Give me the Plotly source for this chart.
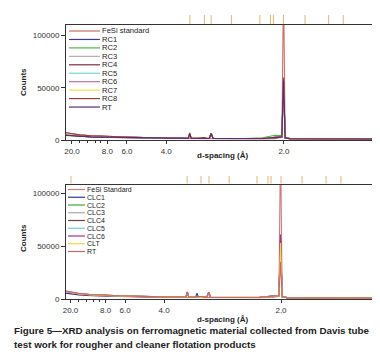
import plotly.graph_objects as go

# ---------------- data ----------------
d_spacing = [27.0, 20.0, 15.0, 11.0, 8.0, 6.0, 4.5, 3.6, 3.37, 3.335, 3.30, 3.15, 3.12, 3.09,
             3.05, 3.02, 2.99, 2.93, 2.895, 2.86, 2.60, 2.40, 2.20, 2.08, 2.018, 2.004, 1.99,
             1.95, 1.84, 1.70, 1.55, 1.40]

x_tick_d = [20.0, 8.0, 6.0, 4.0, 2.0]
x_tick_labels = ["20.0", "8.0", "6.0", "4.0", "2.0"]
minor_tick_d = [15.0, 12.0, 10.0, 9.0]
y_tick_vals = [0, 50000, 100000]
y_tick_labels = ["0", "50000", "100000"]

ref_d_top = [3.33, 3.02, 2.895, 2.575, 2.228, 2.122, 2.094, 2.004, 1.836, 1.681, 1.598]
ref_d_bottom = [19.6, 3.34, 3.04, 2.89, 2.57, 2.229, 2.118, 2.089, 2.0, 1.835, 1.677, 1.592]

names_top = ["FeSi standard", "RC1", "RC2", "RC3", "RC4", "RC5", "RC6", "RC7", "RC8", "RT"]
fesi_top = [5200, 4300, 3600, 3000, 2500, 2100, 1700, 1400, 1300, 1500, 1300, 1250, 1250, 1250, 1250, 1300,
            1250, 1200, 1400, 1200, 1150, 1100, 1100, 1300, 2500, 150000, 2200, 1100, 1000, 950, 900, 850]
rc1 = [4300, 3800, 3300, 2900, 2500, 2200, 1900, 1600, 1550, 5200, 1550, 1500, 1500, 1500, 1500, 2000,
       1500, 1450, 5600, 1450, 1400, 1300, 1400, 2200, 2800, 52000, 1900, 1250, 1150, 1050, 950, 900]
rc2 = [6400, 5500, 4600, 3800, 3100, 2600, 2100, 1700, 1650, 6000, 1650, 1550, 1550, 1550, 1550, 2200,
       1500, 1450, 6200, 1450, 1400, 1400, 2200, 4500, 4200, 56000, 2300, 1300, 1200, 1100, 1000, 950]
rc3 = [6200, 5300, 4500, 3700, 3100, 2600, 2100, 1700, 1650, 5600, 1600, 1550, 1550, 1550, 1550, 2100,
       1500, 1450, 6000, 1450, 1400, 1300, 1500, 2500, 3000, 50000, 2000, 1300, 1200, 1100, 1000, 950]
rc4 = [6800, 5800, 4800, 4000, 3300, 2800, 2200, 1800, 1700, 6400, 1700, 1600, 1600, 1600, 1600, 2300,
       1550, 1500, 6400, 1500, 1400, 1300, 1500, 2600, 3100, 58000, 2100, 1300, 1200, 1100, 1000, 950]
rc5 = [6000, 5100, 4300, 3600, 3000, 2500, 2000, 1700, 1600, 5800, 1600, 1500, 1500, 1500, 1500, 2100,
       1500, 1450, 5800, 1450, 1350, 1300, 1500, 2500, 3000, 47000, 2000, 1250, 1150, 1050, 950, 900]
rc6 = [6700, 5700, 4800, 4000, 3300, 2800, 2200, 1800, 1700, 6600, 1700, 1600, 1600, 1600, 1600, 2300,
       1550, 1500, 6500, 1500, 1400, 1300, 1500, 2700, 3200, 60000, 2100, 1300, 1200, 1100, 1000, 950]
rc7 = [6300, 5400, 4500, 3800, 3100, 2600, 2100, 1700, 1650, 6000, 1650, 1550, 1550, 1550, 1550, 2200,
       1500, 1450, 6000, 1450, 1400, 1300, 1500, 2600, 3000, 54000, 2000, 1300, 1200, 1100, 1000, 950]
rc8 = [6900, 5900, 4900, 4100, 3300, 2800, 2200, 1800, 1700, 6800, 1700, 1600, 1600, 1600, 1600, 2300,
       1550, 1500, 6600, 1500, 1400, 1300, 1500, 2700, 3200, 59000, 2100, 1300, 1200, 1100, 1000, 950]
rt_top = [4500, 4000, 3500, 3000, 2600, 2300, 1900, 1600, 1550, 5400, 1550, 1500, 1500, 1500, 1500, 2000,
          1500, 1450, 5700, 1450, 1400, 1300, 1400, 2300, 2900, 57000, 2000, 1250, 1150, 1050, 950, 900]
series_top = [fesi_top, rc1, rc2, rc3, rc4, rc5, rc6, rc7, rc8, rt_top]

names_bottom = ["FeSi Standard", "CLC1", "CLC2", "CLC3", "CLC4", "CLC5", "CLC6", "CLT", "RT"]
fesi_bot = [5600, 4600, 3800, 3100, 2600, 2200, 1800, 1500, 1400, 1600, 1400, 1350, 1350, 1350, 1350, 1400,
            1350, 1300, 1500, 1300, 1250, 1200, 1200, 1400, 2600, 150000, 2300, 1200, 1100, 1000, 950, 900]
clc1 = [5600, 4800, 4100, 3400, 2800, 2400, 2000, 1700, 1650, 5600, 1650, 1700, 5600, 1650, 1600, 2100,
        1550, 1500, 5800, 1500, 1400, 1300, 1500, 2400, 2900, 52000, 2000, 1300, 1200, 1100, 1000, 950]
clc2 = [7400, 6200, 5100, 4100, 3300, 2700, 2200, 1800, 1700, 6300, 1700, 1650, 1700, 1650, 1600, 2300,
        1550, 1500, 6300, 1500, 1400, 1300, 1600, 2600, 3100, 55000, 2100, 1300, 1200, 1100, 1000, 950]
clc3 = [7000, 5900, 4900, 4000, 3200, 2700, 2200, 1800, 1700, 6000, 1700, 1650, 1700, 1650, 1600, 2200,
        1550, 1500, 6000, 1500, 1400, 1300, 1500, 2500, 3000, 50000, 2000, 1300, 1200, 1100, 1000, 950]
clc4 = [7600, 6300, 5200, 4200, 3300, 2800, 2200, 1800, 1700, 6500, 1700, 1650, 1800, 1650, 1600, 2300,
        1550, 1500, 6400, 1500, 1400, 1300, 1600, 2700, 3200, 57000, 2100, 1300, 1200, 1100, 1000, 950]
clc5 = [7100, 6000, 5000, 4000, 3200, 2700, 2200, 1800, 1700, 6000, 1700, 1650, 1700, 1650, 1600, 2200,
        1550, 1500, 6000, 1500, 1400, 1300, 1500, 2500, 3000, 48000, 2000, 1300, 1200, 1100, 1000, 950]
clc6 = [7500, 6300, 5200, 4200, 3300, 2800, 2200, 1800, 1700, 6600, 1700, 1650, 1800, 1650, 1600, 2300,
        1550, 1500, 6500, 1500, 1400, 1300, 1600, 2700, 3200, 61000, 2100, 1300, 1200, 1100, 1000, 950]
clt = [7300, 6100, 5100, 4100, 3300, 2700, 2200, 1800, 1700, 6200, 1700, 1650, 1700, 1650, 1600, 2200,
       1550, 1500, 6200, 1500, 1400, 1300, 1500, 2600, 3100, 53000, 2000, 1300, 1200, 1100, 1000, 950]
rt_bot = [7700, 6400, 5300, 4200, 3400, 2800, 2200, 1800, 1700, 6400, 1700, 1650, 1700, 1650, 1600, 2300,
          1550, 1500, 6400, 1500, 1400, 1300, 1500, 2600, 3000, 35000, 2000, 1300, 1200, 1100, 1000, 950]
series_bottom = [fesi_bot, clc1, clc2, clc3, clc4, clc5, clc6, clt, rt_bot]

# ---------------- styles ----------------
colors_top = ["#cc6e66", "#3c3c90", "#44bb44", "#b0b0b0", "#7a3040", "#70d6d6",
              "#c070b0", "#f0e050", "#a83838", "#5a2a78"]
colors_bottom = ["#d07878", "#3434a0", "#38b038", "#a8a8a8", "#7a3a40", "#70d0d0",
                 "#a8309e", "#f0d840", "#d06464"]
FONT = "Liberation Sans, Arial, sans-serif"
TXT = "#222222"
AX = "#333333"
REF = "#e2b674"

inv_d = [1.0 / d for d in d_spacing]

fig = go.Figure()
for name, vals, col in zip(names_top, series_top, colors_top):
    fig.add_trace(go.Scatter(x=inv_d, y=vals, mode="lines", name=name,
                             line=dict(color=col, width=1.1), xaxis="x", yaxis="y",
                             showlegend=False))
for name, vals, col in zip(names_bottom, series_bottom, colors_bottom):
    fig.add_trace(go.Scatter(x=inv_d, y=vals, mode="lines", name=name,
                             line=dict(color=col, width=1.1), xaxis="x2", yaxis="y2",
                             showlegend=False))

# plot geometry (pixels): plot area x 58..371, y 17..291
L, R, T, B = 58, 9, 17, 64
W, H = 380, 355
PW, PH = W - L - R, H - T - B


def py(p):
    return (H - B - p) / PH


def px(p):
    return (p - L) / PW


top_dom = [py(132), 1.0]
bot_dom = [0.0, py(176.7)]

xcommon = dict(showline=True, linecolor=AX, linewidth=1, mirror=True, showgrid=False,
               zeroline=False, ticks="outside", ticklen=3, tickcolor=AX,
               tickmode="array", tickvals=[1.0 / d for d in x_tick_d], ticktext=x_tick_labels,
               tickfont=dict(family=FONT, size=8, color=AX),
               minor=dict(tickmode="array", tickvals=[1.0 / d for d in minor_tick_d],
                          ticks="outside", ticklen=2, tickcolor=AX))
ycommon = dict(showline=True, linecolor=AX, linewidth=1, mirror=True, showgrid=False,
               zeroline=False, ticks="outside", ticklen=4, tickcolor=AX,
               tickmode="array", tickvals=y_tick_vals, ticktext=y_tick_labels,
               tickfont=dict(family=FONT, size=8, color=AX))

fig.update_layout(
    width=W, height=H, margin=dict(l=L, r=R, t=T, b=B),
    paper_bgcolor="white", plot_bgcolor="white", showlegend=False,
    xaxis=dict(xcommon, domain=[0, 1], anchor="y", range=[0.0373, 0.7017]),
    yaxis=dict(ycommon, domain=top_dom, anchor="x", range=[0, 110000]),
    xaxis2=dict(xcommon, domain=[0, 1], anchor="y2", range=[0.0404, 0.7095]),
    yaxis2=dict(ycommon, domain=bot_dom, anchor="x2", range=[0, 108000]),
)

shapes = []
for d in ref_d_top:
    shapes.append(dict(type="line", xref="x", yref="paper", x0=1.0 / d, x1=1.0 / d,
                       y0=py(16), y1=py(7), line=dict(color=REF, width=1)))
for d in ref_d_bottom:
    shapes.append(dict(type="line", xref="x2", yref="paper", x0=1.0 / d, x1=1.0 / d,
                       y0=py(175.5), y1=py(168), line=dict(color=REF, width=1)))

ann = []
# manual legends
for i, (name, col) in enumerate(zip(names_top, colors_top)):
    yy = py(23 + i * 8.45)
    shapes.append(dict(type="line", xref="paper", yref="paper", x0=px(61), x1=px(92),
                       y0=yy, y1=yy, line=dict(color=col, width=1.2)))
    ann.append(dict(text=name, xref="paper", yref="paper", x=px(92.5), y=yy,
                    xanchor="left", yanchor="middle", showarrow=False, borderpad=0,
                    font=dict(family=FONT, size=7.6, color=TXT)))
for i, (name, col) in enumerate(zip(names_bottom, colors_bottom)):
    yy = py(181.5 + i * 7.75)
    shapes.append(dict(type="line", xref="paper", yref="paper", x0=px(60), x1=px(77),
                       y0=yy, y1=yy, line=dict(color=col, width=1.2)))
    ann.append(dict(text=name, xref="paper", yref="paper", x=px(77.5), y=yy,
                    xanchor="left", yanchor="middle", showarrow=False, borderpad=0,
                    font=dict(family=FONT, size=7.0, color=TXT)))

# axis titles
for yc in (74, 230):
    ann.append(dict(text="<b>Counts</b>", xref="paper", yref="paper", x=px(15), y=py(yc),
                    textangle=-90, showarrow=False, xanchor="center", yanchor="middle",
                    font=dict(family=FONT, size=8, color=TXT)))
for yc in (147, 311):
    ann.append(dict(text="<b>d-spacing (Å)</b>", xref="paper", yref="paper", x=px(214), y=py(yc),
                    showarrow=False, xanchor="center", yanchor="middle",
                    font=dict(family=FONT, size=8, color=TXT)))

# caption
cap1 = "Figure 5—XRD analysis on ferromagnetic material collected from Davis tube"
cap2 = "test work for rougher and cleaner flotation products"
ann.append(dict(text="<b>" + cap1 + "</b>", xref="paper", yref="paper", x=px(4), y=py(322.7),
                showarrow=False, xanchor="left", yanchor="middle",
                font=dict(family=FONT, size=9.8, color=TXT)))
ann.append(dict(text="<b>" + cap2 + "</b>", xref="paper", yref="paper", x=px(4), y=py(336.7),
                showarrow=False, xanchor="left", yanchor="middle",
                font=dict(family=FONT, size=9.8, color=TXT)))

fig.update_layout(shapes=shapes, annotations=ann)
fig.write_html("out.html")
